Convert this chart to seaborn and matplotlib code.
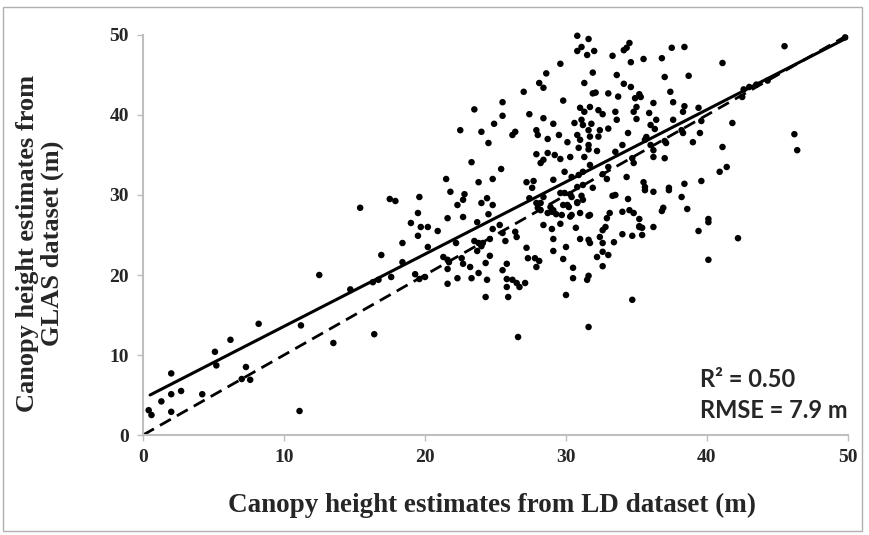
import matplotlib
matplotlib.use("Agg")
import matplotlib.pyplot as plt
import seaborn as sns
import pandas as pd
from matplotlib.patches import Rectangle

# ---- data ----
pts = [
 (0.4,3.1),(0.6,2.5),(1.3,4.2),(2.0,7.7),(2.0,5.1),(2.0,2.9),(2.7,5.5),(4.2,5.1),(5.1,10.4),(5.2,8.7),
 (6.2,11.9),(7.3,8.5),(7.0,7.0),(7.6,6.9),(8.2,13.9),(11.1,3.0),(11.2,13.7),(12.5,20.0),(13.5,11.5),(14.7,18.2),
 (16.3,19.1),(16.7,19.4),(16.4,12.6),(16.9,22.5),(15.4,28.4),(17.6,19.75),(18.4,21.6),(17.5,29.5),(17.9,29.25),(18.4,24.0),
 (19.0,26.5),(19.7,26.0),(20.2,26.0),(20.9,25.5),(19.5,24.9),(20.2,23.5),(19.3,20.1),(20.0,19.75),(19.6,19.5),(19.6,29.75),
 (19.5,27.75),(21.5,32.0),(21.8,30.4),(22.8,30.1),(22.7,29.4),(22.3,28.75),(21.6,27.1),(22.7,27.25),(22.2,24.0),(21.3,22.25),
 (21.6,21.9),(21.7,21.6),(22.6,22.1),(22.7,21.4),(21.6,20.75),(23.2,21.0),(23.8,20.25),(21.6,18.9),(22.3,19.6),(23.3,19.6),
 (24.4,19.4),(24.3,17.25),(23.7,26.6),(23.5,24.25),(23.8,24.0),(24.0,23.6),(23.7,23.0),(24.1,24.0),(24.6,24.5),(24.8,25.75),
 (25.3,26.25),(25.5,25.25),(25.7,24.25),(24.6,22.4),(24.3,21.5),(25.5,20.6),(25.8,21.4),(25.8,19.5),(25.8,18.5),(25.9,17.25),
 (24.4,29.6),(24.0,29.0),(24.8,28.75),(24.5,27.6),(23.8,31.6),(24.8,32.0),(23.3,34.1),(25.4,33.25),(22.5,38.1),(24.0,37.9),
 (24.9,38.9),(24.5,36.5),(23.5,40.7),(25.5,41.6),(25.5,39.9),(27.0,42.9),(26.2,37.5),(26.4,37.9),(27.9,38.1),(28.0,37.5),
 (27.4,40.1),(28.4,39.6),(28.6,45.2),(28.1,44.0),(28.4,43.4),(29.6,46.4),(29.1,38.9),(29.5,37.5),(28.7,37.0),(27.9,35.1),
 (28.4,34.4),(28.7,35.25),(29.2,35.0),(28.2,34.0),(29.6,34.5),(27.2,31.6),(27.7,31.75),(27.6,30.9),(29.1,31.9),(29.9,32.9),
 (26.6,12.25),(26.2,19.4),(26.5,19.0),(26.7,18.5),(27.1,19.0),(26.4,25.4),(26.5,24.75),(27.2,23.4),(27.3,22.1),(27.8,22.1),
 (28.1,21.75),(27.9,21.0),(27.4,29.6),(27.9,29.0),(28.2,28.1),(28.9,28.5),(28.7,27.75),(29.0,27.9),(28.4,29.75),(28.2,29.0),
 (28.0,28.4),(29.1,28.1),(29.3,27.6),(28.4,26.25),(29.0,25.75),(29.6,26.4),(29.1,24.5),(29.1,23.0),(29.8,22.0),(30.0,23.5),
 (30.0,17.5),(29.6,30.25),(29.9,30.25),(30.3,30.1),(31.1,29.9),(30.8,29.0),(30.4,29.75),(29.8,28.75),(30.2,28.5),(30.4,27.5),
 (30.7,25.9),(31.0,24.5),(31.6,24.4),(31.7,24.0),(31.6,27.4),(30.5,20.9),(30.5,19.6),(31.5,19.4),(31.6,19.9),(31.6,13.5),
 (30.4,32.25),(30.9,32.5),(31.2,32.9),(30.8,31.0),(31.2,31.25),(31.9,30.9),(30.3,34.75),(31.3,34.75),(31.7,33.75),(30.9,35.9),
 (31.6,36.25),(31.6,35.7),(32.2,35.5),(30.1,36.6),(30.8,37.5),(31.0,36.9),(31.7,37.3),(32.3,37.3),(30.6,39.0),(31.1,39.4),
 (31.8,38.9),(31.6,38.1),(31.2,38.75),(32.4,38.1),(33.0,38.3),(33.6,39.4),(31.0,40.9),(31.7,41.0),(31.3,40.4),(32.3,40.6),
 (32.6,40.1),(33.5,40.4),(29.8,41.8),(31.9,42.7),(32.1,42.8),(33.0,42.7),(33.7,42.3),(31.3,44.0),(31.9,45.3),(33.6,45.0),
 (33.3,47.4),(31.5,47.5),(32.0,48.0),(31.1,48.5),(30.8,48.0),(30.8,49.9),(31.6,49.5),(33.5,35.4),(33.0,33.5),(32.9,32.0),
 (32.6,32.6),(30.1,28.75),(30.8,29.1),(31.2,29.4),(29.7,27.5),(30.3,27.3),(31.0,27.75),(31.7,27.5),(33.1,27.75),(33.5,30.0),
 (32.4,24.75),(32.6,25.6),(32.8,26.0),(32.6,24.0),(32.6,22.9),(33.0,22.5),(32.6,21.1),(33.4,24.1),(34.0,25.1),(34.7,24.9),
 (35.2,26.0),(35.4,25.9),(35.4,25.0),(36.2,26.0),(34.7,16.9),(39.4,25.5),(40.1,26.6),(42.2,24.6),(40.1,21.9),(32.2,22.25),
 (32.9,27.1),(33.3,29.9),(34.4,29.5),(34.0,27.9),(34.5,28.1),(34.8,27.75),(35.2,27.0),(35.2,26.1),(35.6,30.6),(36.2,30.4),
 (37.3,30.6),(35.5,31.6),(35.6,31.0),(37.3,30.9),(38.4,31.4),(39.6,31.75),(36.9,28.4),(36.8,28.0),(38.2,29.75),(38.6,28.25),
 (40.1,27.0),(34.3,32.25),(34.7,34.6),(34.8,34.0),(37.0,34.6),(36.2,34.75),(36.2,35.6),(36.0,36.25),(34.0,36.25),(35.7,37.25),
 (35.6,36.9),(37.0,36.75),(37.1,36.5),(39.0,36.6),(41.1,36.0),(40.9,32.9),(41.4,33.5),(34.4,37.75),(38.2,38.1),(38.3,37.75),
 (39.5,37.75),(36.0,38.75),(36.3,38.25),(35.0,39.5),(36.4,39.4),(37.6,39.4),(39.6,39.25),(41.8,39.0),(35.0,41.0),(34.8,40.4),
 (35.9,40.25),(38.4,41.1),(38.3,40.4),(39.4,40.9),(36.2,41.5),(37.6,41.6),(35.2,42.6),(34.9,42.1),(35.3,42.25),(37.4,42.9),
 (34.1,43.9),(34.6,43.5),(37.0,44.75),(38.7,44.9),(34.6,46.6),(35.5,47.0),(36.8,47.1),(41.1,46.5),(34.5,49.0),(34.3,48.4),
 (34.1,48.1),(37.5,48.4),(38.4,48.5),(45.5,48.6),(46.2,37.6),(46.4,35.6),(42.6,43.2),(43.0,43.5),(43.5,43.8),(44.3,44.3),
 (42.5,42.25),(49.8,49.7),
]
ld_height = [p[0] for p in pts]
glas_height = [p[1] for p in pts]

fit_slope = 0.903
fit_intercept = 4.55
fit_x = [0.5, 50.0]
one_to_one = [0.0, 50.0]
ticks = [0, 10, 20, 30, 40, 50]
stats_lines = ["R\u00b2 = 0.50", "RMSE = 7.9 m"]

# ---- plot ----
sns.set_theme(style="white")
plt.rcParams['font.family'] = ['Liberation Serif', 'DejaVu Serif']

fig = plt.figure(figsize=(8.69, 5.35), dpi=100)
ax = fig.add_axes([0.1646, 0.1869, 0.8112, 0.7477])

df = pd.DataFrame({"ld": ld_height, "glas": glas_height})
sns.scatterplot(data=df, x="ld", y="glas", ax=ax, color="black", s=22,
                edgecolor="none", linewidth=0, zorder=3, clip_on=False)

ax.plot(one_to_one, one_to_one, color="black", lw=2.0, ls=(0, (4.5, 2.5)), zorder=2)
ax.plot(fit_x, [fit_slope * v + fit_intercept for v in fit_x], color="black", lw=2.2, zorder=2)

ax.set_xlim(0, 50)
ax.set_ylim(0, 50)
ax.set_xticks(ticks)
ax.set_yticks(ticks)
ax.set_xticklabels([str(t) for t in ticks], fontweight="bold", fontsize=14)
ax.set_yticklabels([str(t) for t in ticks], fontweight="bold", fontsize=14)
ax.tick_params(axis="both", direction="out", length=4, width=1, color="#bfbfbf", pad=6, bottom=True, left=True)

for s in ["top", "right"]:
    ax.spines[s].set_visible(False)
for s in ["left", "bottom"]:
    ax.spines[s].set_color("#bfbfbf")
    ax.spines[s].set_linewidth(1.5)

ax.set_xlabel("Canopy height estimates from LD dataset (m)", fontsize=19.5, fontweight="bold", va="center")
ax.set_ylabel("Canopy height estimates from\nGLAS dataset (m)", fontsize=19, fontweight="bold",
              va="center", linespacing=1.05)
ax.xaxis.set_label_coords(0.495, -0.175)
ax.yaxis.set_label_coords(-0.146, 0.48)

ax.text(39.5, 6.9, stats_lines[0], fontsize=17, fontweight="bold", family=["Lato", "DejaVu Sans"],
        va="center", ha="left")
ax.text(39.5, 3.1, stats_lines[1], fontsize=17, fontweight="bold", family=["Lato", "DejaVu Sans"],
        va="center", ha="left")

fig.patches.append(Rectangle((0.004, 0.008), 0.988, 0.978, transform=fig.transFigure,
                             fill=False, edgecolor="#b0b0b0", lw=1))

fig.savefig("out.png", dpi=100)
